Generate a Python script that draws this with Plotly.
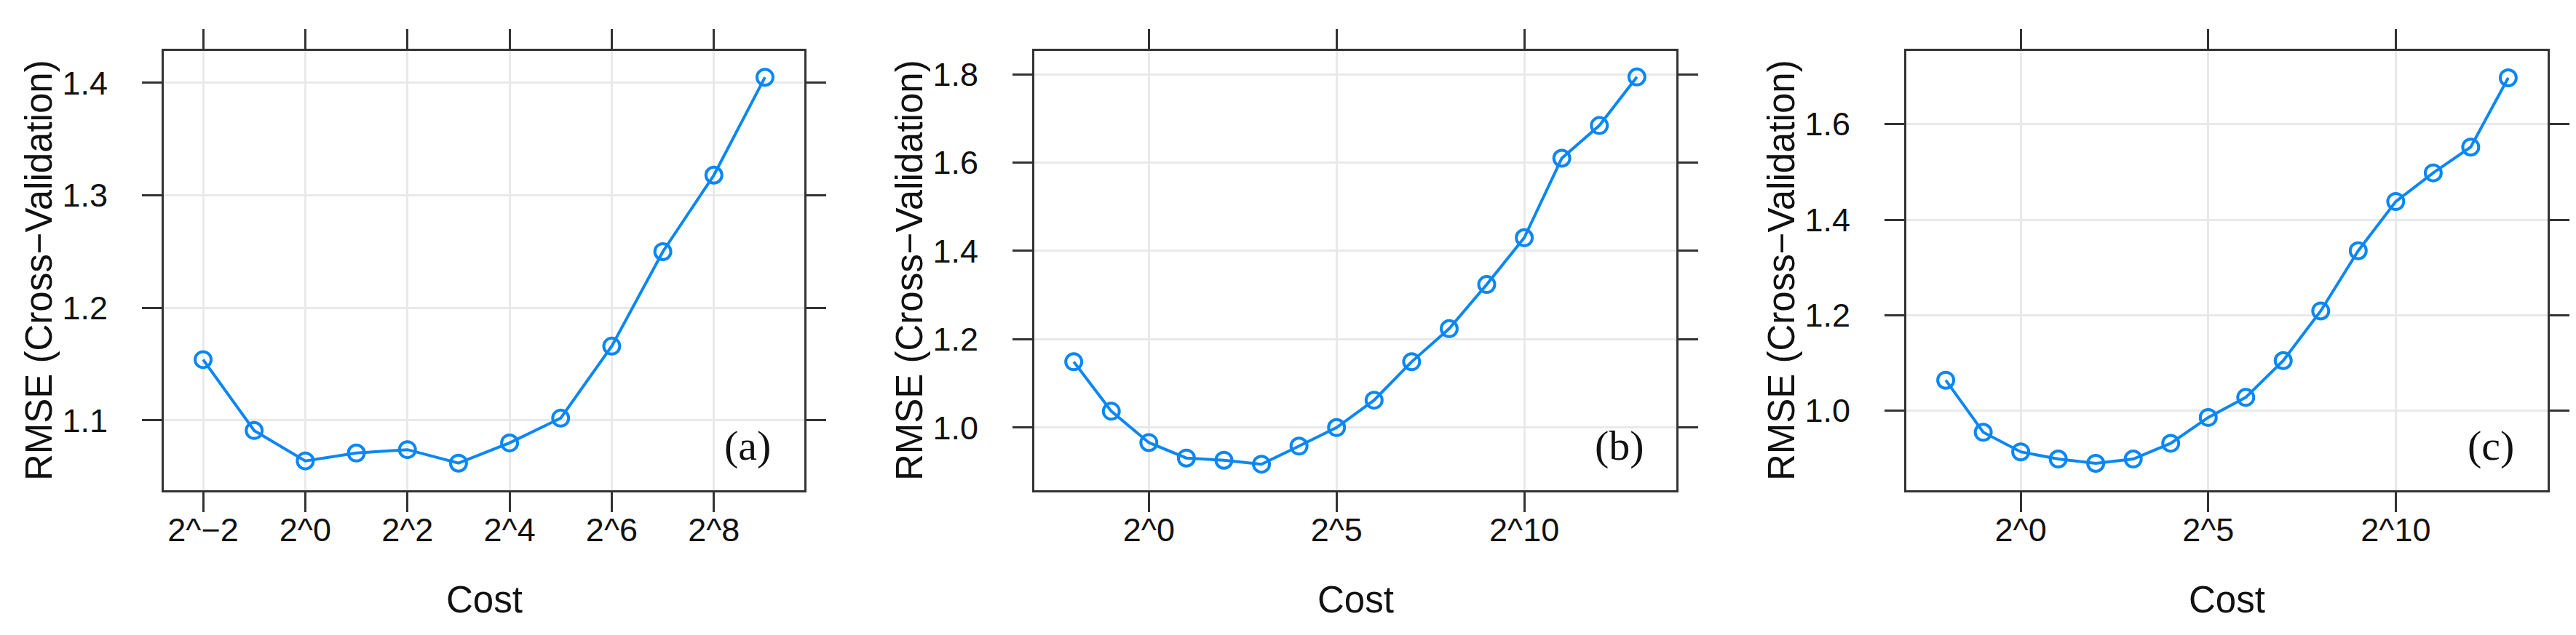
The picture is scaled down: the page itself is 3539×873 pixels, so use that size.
import math
import plotly.graph_objects as go

# ---------------- data ----------------
cost_exp_a = [-2, -1, 0, 1, 2, 3, 4, 5, 6, 7, 8, 9]
rmse_a = [1.154, 1.091, 1.064, 1.071, 1.074, 1.062, 1.080, 1.102, 1.166, 1.250, 1.318, 1.405]

cost_exp_bc = [-2, -1, 0, 1, 2, 3, 4, 5, 6, 7, 8, 9, 10, 11, 12, 13]
rmse_b = [1.149, 1.037, 0.966, 0.931, 0.926, 0.917, 0.958, 1.000, 1.062, 1.149,
          1.224, 1.324, 1.430, 1.610, 1.684, 1.794]
rmse_c = [1.064, 0.955, 0.914, 0.899, 0.890, 0.899, 0.932, 0.986, 1.028, 1.105,
          1.209, 1.335, 1.438, 1.498, 1.552, 1.697]

xtick_exp_a = [-2, 0, 2, 4, 6, 8]
xtick_exp_bc = [0, 5, 10]
ytick_a = [1.1, 1.2, 1.3, 1.4]
ytick_b = [1.0, 1.2, 1.4, 1.6, 1.8]
ytick_c = [1.0, 1.2, 1.4, 1.6]
panel_labels = ["(a)", "(b)", "(c)"]
x_title = "Cost"
y_title = "RMSE (Cross\u2212Validation)"

# ---------------- layout constants (pixels) ----------------
W, H = 3539, 873
boxes_x = [(217, 1097), (1413, 2295), (2611, 3492)]
box_top, box_bot = 62, 666
yranges = [(1.0379, 1.4284), (0.8580, 1.8530), (0.8336, 1.7533)]
xranges_exp = [(-2.77, 9.77), (-3.05, 14.05), (-3.05, 14.05)]

LINE_COL = "#0a87f5"
AX_COL = "#333333"
GRID_COL = "#e9e9e9"
TXT_COL = "#111111"
FONT = "Liberation Sans, Arial, sans-serif"

def px_x(p):
    return p / W

def px_y(p):
    return 1 - p / H

def tick_label(e):
    return "2^" + (("\u2212" + str(-e)) if e < 0 else str(e))

panels = [
    (cost_exp_a, rmse_a, xtick_exp_a, ytick_a),
    (cost_exp_bc, rmse_b, xtick_exp_bc, ytick_b),
    (cost_exp_bc, rmse_c, xtick_exp_bc, ytick_c),
]

fig = go.Figure()
layout = dict(
    width=W, height=H,
    margin=dict(l=0, r=0, t=0, b=0),
    paper_bgcolor="white", plot_bgcolor="white",
    showlegend=False,
    font=dict(family=FONT, color=TXT_COL),
    annotations=[],
)

for i, (exps, vals, xt, yt) in enumerate(panels):
    k = "" if i == 0 else str(i + 1)
    costs = [2.0 ** e for e in exps]
    fig.add_trace(go.Scatter(
        x=costs, y=vals, mode="lines+markers",
        xaxis="x" + k, yaxis="y" + k,
        line=dict(color=LINE_COL, width=4),
        marker=dict(symbol="circle-open", size=22, color=LINE_COL,
                    line=dict(width=4, color=LINE_COL)),
        cliponaxis=False,
    ))
    x0, x1 = boxes_x[i]
    xr = xranges_exp[i]
    common = dict(
        showline=True, linecolor=AX_COL, linewidth=3, mirror="ticks",
        ticks="outside", ticklen=27, tickwidth=3, tickcolor=AX_COL,
        showgrid=True, gridcolor=GRID_COL, gridwidth=3, zeroline=False,
        tickfont=dict(size=45, family=FONT, color=TXT_COL),
    )
    layout["xaxis" + k] = dict(
        common, type="log", anchor="y" + k,
        domain=[px_x(x0), px_x(x1)],
        range=[xr[0] * math.log10(2), xr[1] * math.log10(2)],
        tickvals=[2.0 ** e for e in xt],
        ticktext=[tick_label(e) for e in xt],
        ticklabelstandoff=-14,
    )
    layout["yaxis" + k] = dict(
        common, anchor="x" + k,
        domain=[px_y(box_bot), px_y(box_top)],
        range=list(yranges[i]),
        tickvals=yt, ticktext=["%.1f" % v for v in yt],
        ticklabelstandoff=38,
    )
    # axis titles
    layout["annotations"].append(dict(
        text=y_title, xref="paper", yref="paper",
        x=px_x(x0 - 172), y=px_y((box_top + box_bot) / 2),
        textangle=-90, showarrow=False, xanchor="center", yanchor="middle",
        font=dict(size=51, family=FONT, color=TXT_COL),
    ))
    layout["annotations"].append(dict(
        text=x_title, xref="paper", yref="paper",
        x=px_x((x0 + x1) / 2), y=px_y(816),
        showarrow=False, xanchor="center", yanchor="middle",
        font=dict(size=51, family=FONT, color=TXT_COL),
    ))
    # panel label
    layout["annotations"].append(dict(
        text=panel_labels[i], xref="paper", yref="paper",
        x=px_x(x1 - 78), y=px_y(604),
        showarrow=False, xanchor="center", yanchor="middle",
        font=dict(size=58, family="Liberation Serif, Times New Roman, serif",
                  color=TXT_COL),
    ))

fig.update_layout(**layout)
fig.write_html("out.html")
